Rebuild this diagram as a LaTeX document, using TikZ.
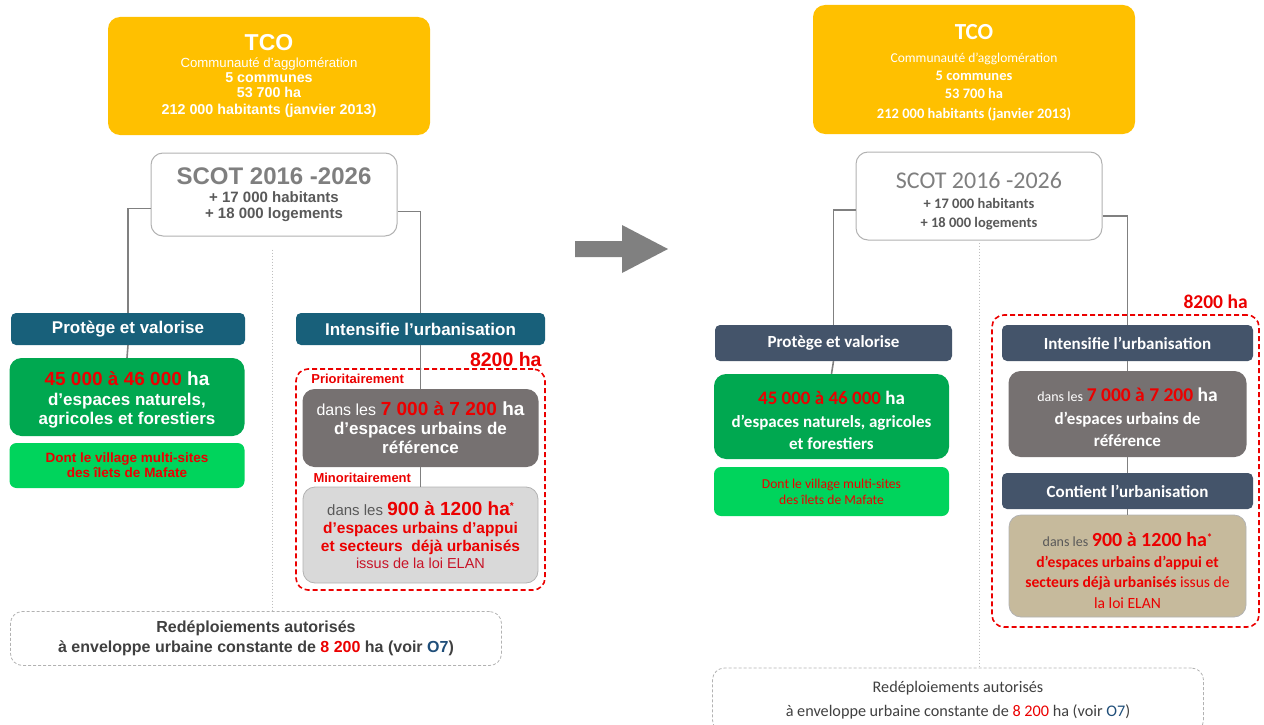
\documentclass[tikz,border=0pt]{standalone}
\usepackage{fontspec}
\setmainfont{Liberation Sans}
\newfontfamily\calib{Carlito}
\usetikzlibrary{positioning}
\definecolor{gold}{RGB}{255,192,0}
\definecolor{petrol}{RGB}{24,96,122}
\definecolor{slate}{RGB}{68,84,106}
\definecolor{leaf}{RGB}{0,168,80}
\definecolor{mint}{RGB}{0,212,92}
\definecolor{stone}{RGB}{118,113,113}
\definecolor{pale}{RGB}{217,217,217}
\definecolor{sand}{RGB}{198,186,156}
\definecolor{alert}{RGB}{235,0,0}
\definecolor{wine}{RGB}{200,20,40}
\definecolor{deep}{RGB}{31,78,121}
\definecolor{ash}{RGB}{127,127,127}
\definecolor{dim}{RGB}{89,89,89}
\definecolor{ink}{RGB}{64,64,64}
\newcommand\fz[2]{\fontsize{#1}{#2}\selectfont}

\begin{document}
\begin{tikzpicture}[x=1pt,y=-1pt,
box/.style={rounded corners=12pt, align=center, inner sep=0pt},
tco/.style={box, fill=gold, text=white, minimum width=322pt},
scot/.style={box, draw=ash!60, line width=1pt, fill=white, text=dim, minimum width=246pt},
bar/.style={box, rounded corners=5pt, fill=petrol, text=white, font=\fz{17}{20}\bfseries, minimum height=32pt},
barR/.style={bar, fill=slate, font=\calib\fz{17}{20}\bfseries, minimum height=36pt},
nat/.style={box, fill=leaf, text=white, minimum width=235pt},
maf/.style={box, rounded corners=7pt, fill=mint, text=alert, minimum width=235pt},
ref/.style={box, fill=stone, text=white},
app/.style={box, draw=gray!60, line width=0.8pt, text=alert},
zone/.style={draw=alert, line width=1.6pt, dash pattern=on 5pt off 3pt, rounded corners=12pt, inner sep=0pt},
redep/.style={box, draw=gray!60, line width=0.8pt, dash pattern=on 3pt off 2pt, text=ink, minimum width=491pt},
link/.style={draw=gray, line width=1.6pt},
dots/.style={draw=gray!50, line width=1pt, dash pattern=on 1.5pt off 1.5pt},
lbl/.style={inner sep=0pt, text=alert, font=\fz{13}{15}\bfseries}
]
\useasboundingbox (0,0) rectangle (1264,725);

\node[tco, minimum height=118pt, font=\fz{14.3}{15}\bfseries] (tcoL) at (269,76) {{\fz{23}{23}TCO}\\[2.5pt] {\mdseries\fz{13.2}{15}Communauté d’agglomération}\\ 5 communes\\ 53 700 ha\\[2pt] 212 000 habitants (janvier 2013)};
\node[scot, minimum height=83pt, font=\fz{15}{16}\bfseries] (scotL) at (274,194.5) {{\fz{24}{24}\color{ash}SCOT 2016 -2026}\\[2.5pt] + 17 000 habitants\\ + 18 000 logements};
\node[bar, minimum width=234pt] (protL) at (128,329) {Protège et valorise};
\node[nat, minimum height=78pt, font=\fz{17}{19.5}\bfseries] (natL) at (127,397) {\rule{0pt}{20pt}{\fz{19}{19}\textcolor{alert}{45 000 à 46 000} ha}\\ d’espaces naturels,\\ agricoles et forestiers};
\node[maf, minimum height=45pt, font=\fz{13.5}{15}\bfseries] (mafL) at (127,465.5) {Dont le village multi-sites\\ des îlets de Mafate};
\node[bar, minimum width=249pt] (intL) at (420.5,329) {Intensifie l’urbanisation};
\node[zone, minimum width=249pt, minimum height=221pt] (zoneL) at (420.5,479.5) {};
\node[lbl, font=\fz{19.5}{20}\bfseries, above left=1pt and 4pt of zoneL.north east] (haL) {8200 ha};
\node[lbl, below right=5.5pt and 16pt of zoneL.north west] (prioL) {Prioritairement};
\node[ref, minimum width=236pt, minimum height=78pt, font=\fz{17}{19}\bfseries] (refL) at (420.5,428) {{\mdseries\fz{16}{16}dans les} {\fz{19}{19}\textcolor{alert}{7 000 à 7 200} ha}\\ d’espaces urbains de\\ référence};
\node[lbl, below right=6pt and 11pt of refL.south west] (minoL) {Minoritairement};
\node[app, fill=pale, minimum width=235pt, minimum height=96pt, font=\fz{15.5}{17.5}\bfseries] (appL) at (420.5,535) {{\mdseries\fz{15}{15}\textcolor{dim}{dans les}} {\fz{19}{19}900 à 1200 ha}\raisebox{6pt}{\fz{10}{10}*}\\[1pt] d’espaces urbains d’appui\\ et secteurs\ \ déjà urbanisés\\ {\mdseries\fz{14.5}{15}\color{wine}issus de la loi ELAN}};
\node[redep, minimum height=54pt, font=\fz{16}{20}\bfseries] (redepL) at (256,638.5) {Redéploiements autorisés\\ à enveloppe urbaine constante de \textcolor{alert}{8 200} ha (voir \textcolor{deep}{O7})};

\draw[link] ([yshift=-14pt]scotL.west) -| (protL.north);
\draw[link] (protL.south) -- (natL.north);
\draw[link] ([yshift=-17pt]scotL.east) -| (intL.north);
\draw[link] (intL.south) -- (refL.north);
\draw[link] (refL.south) -- (appL.north);
\draw[dots] ([xshift=-2pt,yshift=-13pt]scotL.south) -- ([xshift=-2pt]scotL.south |- redepL.north);

\fill[gray] (575,241) -- (622,241) -- (622,225) -- (668,249) -- (622,273) -- (622,257) -- (575,257) -- cycle;

\node[tco, minimum height=129pt, font=\calib\fz{14.5}{18}\bfseries] (tcoR) at (974,69.5) {\rule{0pt}{21pt}{\fz{23}{23}TCO}\\[5.5pt] {\mdseries\fz{13.5}{18}Communauté d’agglomération}\\ 5 communes\\ 53 700 ha\\[2pt] 212 000 habitants (janvier 2013)};
\node[scot, minimum height=88pt, font=\calib\fz{14.5}{19}\bfseries] (scotR) at (979,196) {\rule{0pt}{25.5pt}{\mdseries\fz{24}{24}\color{ash}SCOT 2016 -2026}\\[1pt] + 17 000 habitants\\ + 18 000 logements};
\node[barR, minimum width=237pt] (protR) at (833.5,343) {Protège et valorise};
\node[nat, minimum height=85pt, font=\calib\fz{17}{22.5}\bfseries] (natR) at (831.5,416.5) {\rule{0pt}{22pt}{\fz{19}{19}\textcolor{alert}{45 000 à 46 000} ha}\\ d’espaces naturels, agricoles\\ et forestiers};
\node[maf, minimum height=49pt, font=\calib\fz{13.6}{16}] (mafR) at (831.5,491.5) {Dont le village multi-sites\\ des îlets de Mafate};
\node[barR, minimum width=251pt] (intR) at (1127.5,343) {Intensifie l’urbanisation};
\node[zone, minimum width=267pt, minimum height=312pt] (zoneR) at (1125.5,471) {};
\node[lbl, font=\calib\fz{19.5}{20}\bfseries, above left=5pt and 12pt of zoneR.north east] (haR) {8200 ha};
\node[ref, minimum width=238pt, minimum height=86pt, font=\calib\fz{17}{22.5}\bfseries] (refR) at (1127.5,414) {\rule{0pt}{21pt}{\mdseries\fz{14}{14}dans les} {\fz{19.5}{19.5}\textcolor{alert}{7 000 à 7 200} ha}\\ d’espaces urbains de\\ référence};
\node[barR, minimum width=251pt] (contR) at (1127.5,491) {Contient l’urbanisation};
\node[app, fill=sand, minimum width=237pt, minimum height=102pt, font=\calib\fz{15.6}{20.5}\bfseries] (appR) at (1127.5,566) {\rule{0pt}{23pt}{\mdseries\fz{14}{14}\textcolor{dim}{dans les}} {\fz{20}{20}900 à 1200 ha}\raisebox{5pt}{\fz{11}{11}*}\\ d’espaces urbains d’appui et\\ secteurs déjà urbanisés {\mdseries issus de}\\ {\mdseries la loi ELAN}};
\node[redep, minimum height=64pt, font=\calib\fz{16.2}{24}] (redepR) at (958,700) {Redéploiements autorisés\\ à enveloppe urbaine constante de \textcolor{alert}{8 200} ha (voir \textcolor{deep}{O7})};

\draw[link] ([yshift=-14pt]scotR.west) -| (protR.north);
\draw[link] (protR.south) -- (natR.north);
\draw[link] ([yshift=-20pt]scotR.east) -| (intR.north);
\draw[link] (intR.south) -- (refR.north);
\draw[link] (refR.south) -- (contR.north);
\draw[link] (contR.south) -- (appR.north);
\draw[dots] ([yshift=-2pt]scotR.south) -- (scotR.south |- redepR.north);
\end{tikzpicture}
\end{document}
